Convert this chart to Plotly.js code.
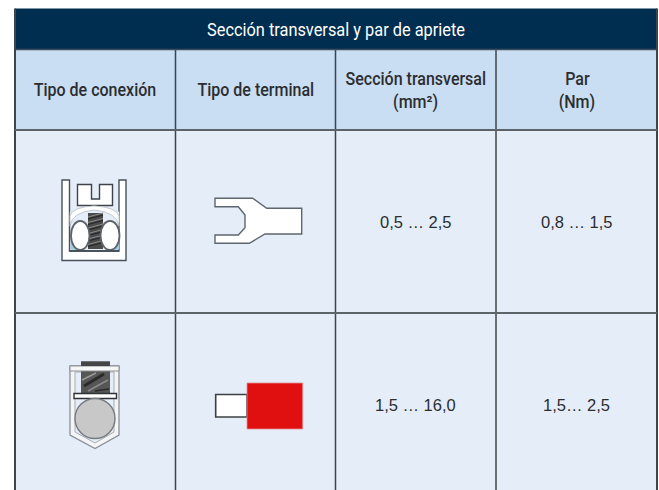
<!DOCTYPE html>
<html><head><meta charset="utf-8">
<script src="https://cdn.plot.ly/plotly-3.0.1.min.js"></script>
<style>html,body{margin:0;padding:0;background:#fff}#c{width:659px;height:490px}
.annotation-text{transform-box:fill-box;transform-origin:center}</style>
</head><body><div id="c"></div>
<script>
// ---- table content ----
var tableTitle = "Sección transversal y par de apriete";
var columnHeaders = [["Tipo de conexión"], ["Tipo de terminal"], ["Sección transversal", "(mm²)"], ["Par", "(Nm)"]];
var sectionValues = ["0,5 … 2,5", "1,5 … 16,0"];
var torqueValues = ["0,8 … 1,5", "1,5… 2,5"];

// ---- grid geometry ----
var colEdges = [15, 175.5, 335.5, 496, 657];
var rowEdges = [8.5, 49.5, 130, 313, 492];

var C = {dark:"#002e50", head:"#c9ddf3", cell:"#e5edf9", line:"#3f4448", text:"#2b2d30"};
var shapes = [], annotations = [];

function poly(pts){ return "M" + pts.map(function(p){return p[0]+" "+p[1];}).join("L") + "Z"; }
function rect(x0,y0,x1,y1,fill,lc,lw){ shapes.push({type:"rect",x0:x0,x1:x1,y0:y0,y1:y1,fillcolor:fill,line:{color:lc||fill,width:lw===undefined?0:lw}}); }
function path(d,fill,lc,lw){ shapes.push({type:"path",path:d,fillcolor:fill||"rgba(0,0,0,0)",line:{color:lc||"rgba(0,0,0,0)",width:lw||0}}); }
function oval(x0,y0,x1,y1,fill,lc,lw){ shapes.push({type:"circle",x0:x0,x1:x1,y0:y0,y1:y1,fillcolor:fill,line:{color:lc,width:lw}}); }
function seg(x0,y0,x1,y1,c,w){ shapes.push({type:"line",x0:x0,x1:x1,y0:y0,y1:y1,line:{color:c,width:w}}); }
var labelScale = [];
function label(x,y,t,size,col,fam,wt,sx){ annotations.push({x:x,y:y,text:t,showarrow:false,xanchor:"center",yanchor:"middle",align:"center",
  font:{size:size,color:col,family:fam,weight:wt}}); labelScale.push(sx); }

var L = colEdges[0], R = colEdges[4];
// fills
rect(L,rowEdges[0],R,rowEdges[1],C.dark);
rect(L,rowEdges[1],R,rowEdges[2],C.head);
rect(L,rowEdges[2],R,rowEdges[4],C.cell);
// grid lines
colEdges.forEach(function(x,i){
  var top = (i===0||i===4)?rowEdges[0]:rowEdges[1];
  seg(x,top,x,rowEdges[4],C.line,(i===0||i===4)?2:1.5);
});
seg(L,rowEdges[1],R,rowEdges[1],"#3d4c5a",1.5);
seg(L,rowEdges[2],R,rowEdges[2],"#5c6369",2);
seg(L,rowEdges[3],R,rowEdges[3],"#5c6369",2);

// ---- icon: connection type 1 (saddle clamp) ----
path(poly([[62,180],[69.5,180],[69.5,251],[119,251],[119,180],[126,180],[126,260.5],[62,260.5]]),"#ffffff","#48525a",1.4);
path(poly([[77.5,184.5],[91.5,184.5],[91.5,199],[99.5,199],[99.5,184.5],[112.5,184.5],[112.5,205.5],[77.5,205.5]]),"#ffffff","#3d4349",1.4);
path("M70 222 L70 212 Q94 200 119 212 L119 222 Z",C.cell,"#cfd8e0",0.5);
rect(88,213,103,249,"#4a4a4a");
for(var k=0;k<6;k++){ seg(88,217+k*5.5,103,213+k*5.5,"#8a8a8a",1); seg(88,219+k*5.5,103,215+k*5.5,"#222222",1); }
path("M70 226 Q72 212 94 210 Q117 212 119 226 L119 216 Q116 207 94 206 Q72 207 70 216 Z","#ffffff","#b8bfc5",0.8);
path("M71 240 L71 249 L76 250 Z","#9fcbe4","#9fcbe4",0.5);
path("M119 240 L119 249 L114 250 Z","#9fcbe4","#9fcbe4",0.5);
oval(71,221,89.5,250,"#ffffff","#5d6368",1.8);
oval(100.5,221,119.5,250,"#ffffff","#5d6368",1.8);
rect(69.5,250,119,252,"#48525a");

// ---- icon: terminal type 1 (fork) ----
path(poly([[215,198.3],[252.7,198.3],[266.7,208.3],[301.7,208.3],[301.7,234],[265,234],[249.3,243.3],[215,243.3],[215,235],[238.3,235],[245,227.7],[245,215],[238.3,206.7],[215,206.7]]),"#ffffff","#5d666e",1.4);

// ---- icon: connection type 2 (cage clamp) ----
path(poly([[70,366],[119,366],[119,435],[95,448.5],[70,435]]),"#f4f5f6","#8b9096",1.3);
path(poly([[75,372],[114,372],[114,432],[95,443],[75,432]]),C.cell,"#a8adb2",1);
rect(81,361.5,110,393,"#565656");
seg(84,386,104,374,"#2a2a2a",3);
seg(82,380,96,373,"#9a9a9a",1.5);
seg(88,391,108,380,"#8a8a8a",1.5);
seg(95,391,109,389,"#2a2a2a",1.5);
rect(70,366,119,371,"#f7f7f7","#8b9096",1);
rect(81,361.5,110,366,"#454545");
rect(74,393.5,116.5,398.5,"#ffffff","#2e3236",1.4);
oval(75,398.5,115,438.5,"#c8c8c8","#767a7e",1.4);

// ---- icon: terminal type 2 (ferrule) ----
rect(215.7,394.5,247,417,"#ffffff","#3c4044",1.6);
rect(247,383,302.7,429,"#e01010","#e88a90",0.8);

// ---- text ----
var head = "Roboto,'Liberation Sans',sans-serif";
var plain = "'Liberation Sans',Arial,sans-serif";
label((L+R)/2,30,tableTitle,17.5,"#ffffff",head,400,0.935);
columnHeaders.forEach(function(lines,i){
  var cx = (colEdges[i]+colEdges[i+1])/2;
  lines.forEach(function(t,j){
    var y = lines.length===1 ? 90 : (j===0 ? 79 : 102);
    label(cx+(i===3?0.5:0),y,t,17.5,C.text,head,500,0.915);
  });
});
[222,405].forEach(function(y,r){
  label((colEdges[2]+colEdges[3])/2,y,sectionValues[r],16.5,C.text,plain,400,1);
  label((colEdges[3]+colEdges[4])/2,y,torqueValues[r],16.5,C.text,plain,400,1);
});

Plotly.newPlot("c",[],{
  width:659,height:490,margin:{l:0,r:0,t:0,b:0},
  paper_bgcolor:"#ffffff",plot_bgcolor:"#ffffff",showlegend:false,
  xaxis:{range:[0,659],visible:false,fixedrange:true},
  yaxis:{range:[490,0],visible:false,fixedrange:true},
  shapes:shapes,annotations:annotations
},{displayModeBar:false,staticPlot:true}).then(function(gd){
  // condensed face: narrow each label horizontally around its centre
  var nodes = gd.querySelectorAll(".annotation-text");
  nodes.forEach(function(n,i){ n.style.transform = "scaleX("+labelScale[i]+")"; });
});
</script>
</body></html>
